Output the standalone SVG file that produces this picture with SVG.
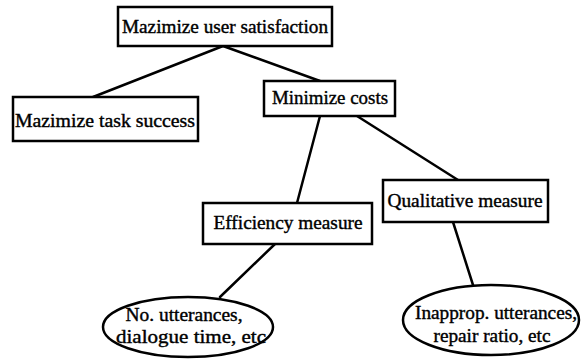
<svg xmlns="http://www.w3.org/2000/svg" width="584" height="362" viewBox="0 0 584 362">
<style>
.box{fill:#fff;stroke:#000;stroke-width:2.5}
.t{font-family:"Liberation Serif","Times New Roman",serif;font-size:19px;fill:#000;stroke:#000;stroke-width:0.4;text-anchor:middle}
.c{stroke:#000;stroke-width:2.5;fill:none;stroke-linecap:round}
</style>
<rect width="584" height="362" fill="#fff"/>
<g id="connectors">
<line class="c" x1="223" y1="46" x2="93" y2="97"/>
<line class="c" x1="223" y1="46" x2="320" y2="81"/>
<line class="c" x1="320" y1="116" x2="297" y2="203"/>
<line class="c" x1="357" y1="116" x2="458" y2="180"/>
<line class="c" x1="275" y1="244" x2="220" y2="297"/>
<line class="c" x1="453" y1="222" x2="473" y2="285"/>
</g>
<g id="n-top">
<rect class="box" x="118" y="7" width="214" height="39"/>
<text class="t" x="225" y="33" textLength="206" lengthAdjust="spacingAndGlyphs">Mazimize user satisfaction</text>
</g>
<g id="n-task">
<rect class="box" x="13" y="97" width="185" height="44"/>
<text class="t" x="105" y="127" textLength="180" lengthAdjust="spacingAndGlyphs">Mazimize task success</text>
</g>
<g id="n-costs">
<rect class="box" x="264" y="81" width="131" height="35"/>
<text class="t" x="330" y="104" textLength="116" lengthAdjust="spacingAndGlyphs">Minimize costs</text>
</g>
<g id="n-eff">
<rect class="box" x="203" y="203" width="169" height="41"/>
<text class="t" x="288" y="229" textLength="149" lengthAdjust="spacingAndGlyphs">Efficiency measure</text>
</g>
<g id="n-qual">
<rect class="box" x="383" y="180" width="165" height="42"/>
<text class="t" x="465" y="207" textLength="155" lengthAdjust="spacingAndGlyphs">Qualitative measure</text>
</g>
<g id="n-eff-ex">
<ellipse class="box" cx="188" cy="327" rx="85" ry="30"/>
<text class="t" x="184" y="321" textLength="117" lengthAdjust="spacingAndGlyphs">No. utterances,</text>
<text class="t" x="191" y="343" textLength="150" lengthAdjust="spacingAndGlyphs">dialogue time, etc</text>
</g>
<g id="n-qual-ex">
<ellipse class="box" cx="491" cy="320" rx="88" ry="35"/>
<text class="t" x="496" y="319" textLength="162" lengthAdjust="spacingAndGlyphs">Inapprop. utterances,</text>
<text class="t" x="492" y="342" textLength="117" lengthAdjust="spacingAndGlyphs">repair ratio, etc</text>
</g>
</svg>
